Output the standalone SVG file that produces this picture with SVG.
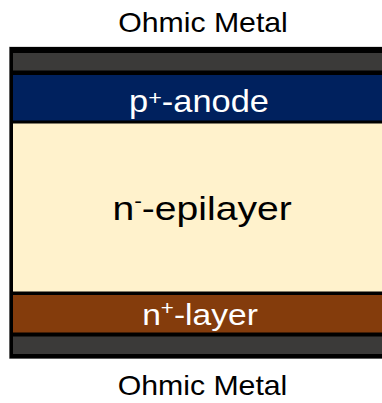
<svg xmlns="http://www.w3.org/2000/svg" width="382" height="403" viewBox="0 0 382 403">
  <style>
    .lbl { font-family: "Liberation Sans", Arial, sans-serif; text-anchor: middle; }
    .dark { fill: #000000; }
    .light { fill: #ffffff; }
    .metal { fill: #3b3a39; }
  </style>
  <rect width="382" height="403" fill="#ffffff"/>

  <!-- layer stack: black frame with the layers inset -->
  <g id="stack">
    <rect x="9" y="46.5" width="390" height="312.5" fill="#bfbfbf"/>
    <rect x="9.5" y="47" width="390" height="311.5" fill="#000000"/>
  </g>

  <g id="top-metal">
    <rect class="metal" x="13" y="53" width="380" height="17.5"/>
  </g>

  <g id="anode">
    <rect x="13" y="75" width="380" height="45.5" fill="#00215e"/>
    <text class="lbl light" transform="scale(1.11,1)" x="179.3" y="112.5" font-size="31">p<tspan font-size="21" dy="-7">+</tspan><tspan dy="7">-anode</tspan></text>
  </g>

  <g id="epilayer">
    <rect x="13" y="123.5" width="380" height="168" fill="#fff2cc"/>
    <text class="lbl dark" transform="scale(1.15,1)" x="175.7" y="220" font-size="34">n<tspan font-size="20" dy="-12">-</tspan><tspan dy="12">-epilayer</tspan></text>
  </g>

  <g id="n-layer">
    <rect x="13" y="295" width="380" height="37.5" fill="#843c0c"/>
    <text class="lbl light" transform="scale(1.12,1)" x="178.6" y="325" font-size="30">n<tspan font-size="20" dy="-10">+</tspan><tspan dy="10">-layer</tspan></text>
  </g>

  <g id="bottom-metal">
    <rect class="metal" x="13" y="336.5" width="380" height="17.5"/>
  </g>

  <!-- contact labels -->
  <g id="label-top">
    <text class="lbl dark" transform="scale(1.08,1)" x="188" y="32.5" font-size="28">Ohmic Metal</text>
  </g>
  <g id="label-bottom">
    <text class="lbl dark" transform="scale(1.08,1)" x="187.5" y="395" font-size="28">Ohmic Metal</text>
  </g>
</svg>
